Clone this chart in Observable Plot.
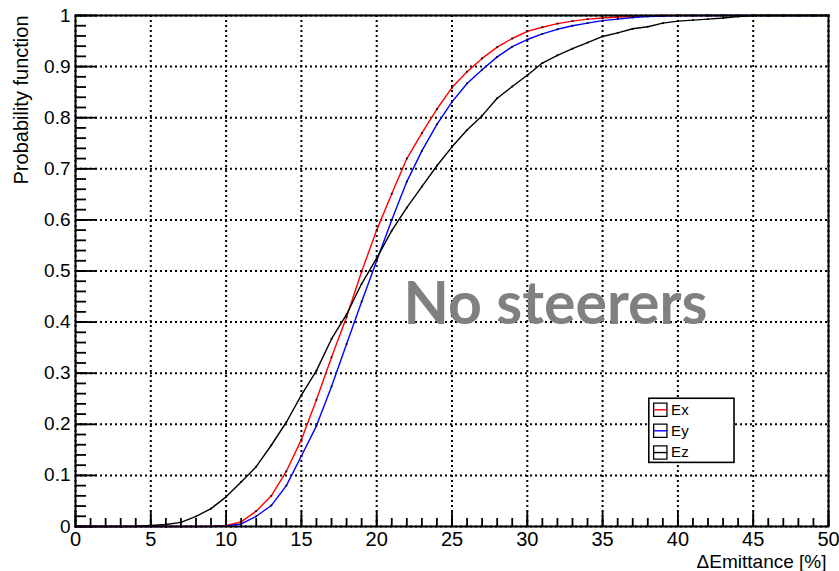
<!DOCTYPE html>
<html><head><meta charset="utf-8">
<script src="https://cdn.jsdelivr.net/npm/d3@7"></script>
<script src="https://cdn.jsdelivr.net/npm/@observablehq/plot@0.6"></script>
<style>body{margin:0;background:#fff}#chart{width:839px;height:571px}</style>
</head><body><div id="chart"></div>
<script>
// ΔEmittance [%] sample points
const emittance = [0,1,2,3,4,5,6,7,8,9,10,11,12,13,14,15,16,17,18,19,20,21,22,23,24,25,26,27,28,29,30,31,32,33,34,35,36,37,38,39,40,41,42,43,44,45,46,47,48,49,50];
// cumulative probability per series
const ex = [0,0,0,0,0,0,0,0,0,0.0005,0.002,0.009,0.03,0.06,0.108,0.17,0.248,0.331,0.41,0.499,0.58,0.651,0.72,0.77,0.817,0.859,0.89,0.916,0.938,0.955,0.969,0.977,0.984,0.989,0.993,0.995,0.997,0.998,0.999,1,1,1,1,1,1,1,1,1,1,1,1];
const ey = [0,0,0,0,0,0,0,0,0,0,0.001,0.005,0.02,0.041,0.08,0.138,0.197,0.274,0.357,0.44,0.52,0.6,0.675,0.735,0.787,0.831,0.867,0.894,0.919,0.939,0.953,0.964,0.973,0.98,0.985,0.99,0.993,0.996,0.998,0.999,1,1,1,1,1,1,1,1,1,1,1];
const ez = [0,0,0,0,0.0005,0.002,0.004,0.008,0.02,0.035,0.058,0.087,0.117,0.159,0.204,0.257,0.305,0.367,0.415,0.475,0.525,0.579,0.624,0.665,0.706,0.743,0.776,0.804,0.838,0.861,0.883,0.907,0.922,0.935,0.947,0.959,0.966,0.974,0.978,0.985,0.989,0.991,0.993,0.995,0.998,1,1,1,1,1,1];
const seriesNames = ["Ex","Ey","Ez"];
const seriesColors = ["#ff0000","#0000ff","#000000"];
const xMajorTicks = [0,5,10,15,20,25,30,35,40,45,50];
const yMajorTicks = [0,0.1,0.2,0.3,0.4,0.5,0.6,0.7,0.8,0.9,1];
const annotation = "No steerers";
const xTitle = "ΔEmittance [%]";
const yTitle = "Probability function";

const seriesValues = [ex, ey, ez];
const data = seriesNames.flatMap((name, s) => seriesValues[s].map((v, i) => ({x: emittance[i], y: v, name})));
const xMinorTicks = d3.range(0, 50.001, 1);
const yMinorTicks = d3.range(0, 1.0001, 0.02);

// legend layout (in plot coordinates)
const legendBox = {x1: 38.1, x2: 43.76, y1: 0.1245, y2: 0.25};
const legendRows = [0.2284, 0.1873, 0.1447];
const legend = seriesNames.map((name, i) => ({name, color: seriesColors[i], y: legendRows[i]}));

const font = "'Liberation Sans', Arial, sans-serif";
const chart = Plot.plot({
  width: 839, height: 571,
  marginLeft: 75, marginRight: 11, marginTop: 15, marginBottom: 45,
  style: {fontFamily: font, background: "white", color: "black"},
  x: {domain: [0, 50]},
  y: {domain: [0, 1]},
  color: {domain: seriesNames, range: seriesColors},
  marks: [
    Plot.gridX(xMajorTicks, {stroke: "black", strokeOpacity: 1, strokeWidth: 2, strokeDasharray: "2,3"}),
    Plot.gridY(yMajorTicks, {stroke: "black", strokeOpacity: 1, strokeWidth: 2, strokeDasharray: "2,3"}),
    Plot.axisX(xMinorTicks, {tickSize: -8, text: null, label: null, strokeWidth: 1.8}),
    Plot.axisX(xMajorTicks, {tickSize: -15, text: null, label: null, strokeWidth: 1.8}),
    Plot.axisX(xMajorTicks, {tickSize: 0, tickPadding: 5, fontSize: 20, label: null, tickFormat: d3.format("d")}),
    Plot.axisY(yMinorTicks, {tickSize: -11, text: null, label: null, strokeWidth: 1.8}),
    Plot.axisY(yMajorTicks, {tickSize: -22, text: null, label: null, strokeWidth: 1.8}),
    Plot.axisY(yMajorTicks, {tickSize: 0, tickPadding: 5, fontSize: 19, label: null, tickFormat: d => String(+d.toFixed(1))}),
    Plot.line(data, {x: "x", y: "y", z: "name", stroke: "name", strokeWidth: 1.4}),
    Plot.dot(data, {x: "x", y: "y", symbol: "square", r: 1, fill: "black", stroke: null}),
    Plot.frame({stroke: "black", strokeWidth: 2}),
    Plot.text([annotation], {x: 31.87, y: 0.434, text: d => d, fontSize: 59, fontWeight: "bold", fontFamily: "Lato, 'Open Sans', sans-serif", fill: "#808080", textAnchor: "middle", lineAnchor: "middle"}),
    Plot.rect([legendBox], {x1: "x1", x2: "x2", y1: "y1", y2: "y2", fill: "white", stroke: "black", strokeWidth: 1.6}),
    Plot.dot(legend, {x: 38.83, y: "y", symbol: "square", r: 7.5, fill: "white", stroke: "black", strokeWidth: 1.3}),
    Plot.link(legend, {x1: 38.35, x2: 39.3, y1: "y", y2: "y", stroke: "color", strokeWidth: 1.4}),
    Plot.text(legend, {x: 39.55, y: "y", text: "name", fontSize: 15, textAnchor: "start", lineAnchor: "middle", fill: "black"}),
    Plot.text([xTitle], {frameAnchor: "bottom-right", text: d => d, dy: 41, dx: -2, textAnchor: "end", lineAnchor: "bottom", fontSize: 19, fill: "black"}),
    Plot.text([yTitle], {frameAnchor: "top-left", text: d => d, dx: -48, dy: 0, rotate: -90, textAnchor: "end", lineAnchor: "bottom", fontSize: 20, fill: "black"})
  ]
});
document.getElementById("chart").appendChild(chart);
</script>
</body></html>
